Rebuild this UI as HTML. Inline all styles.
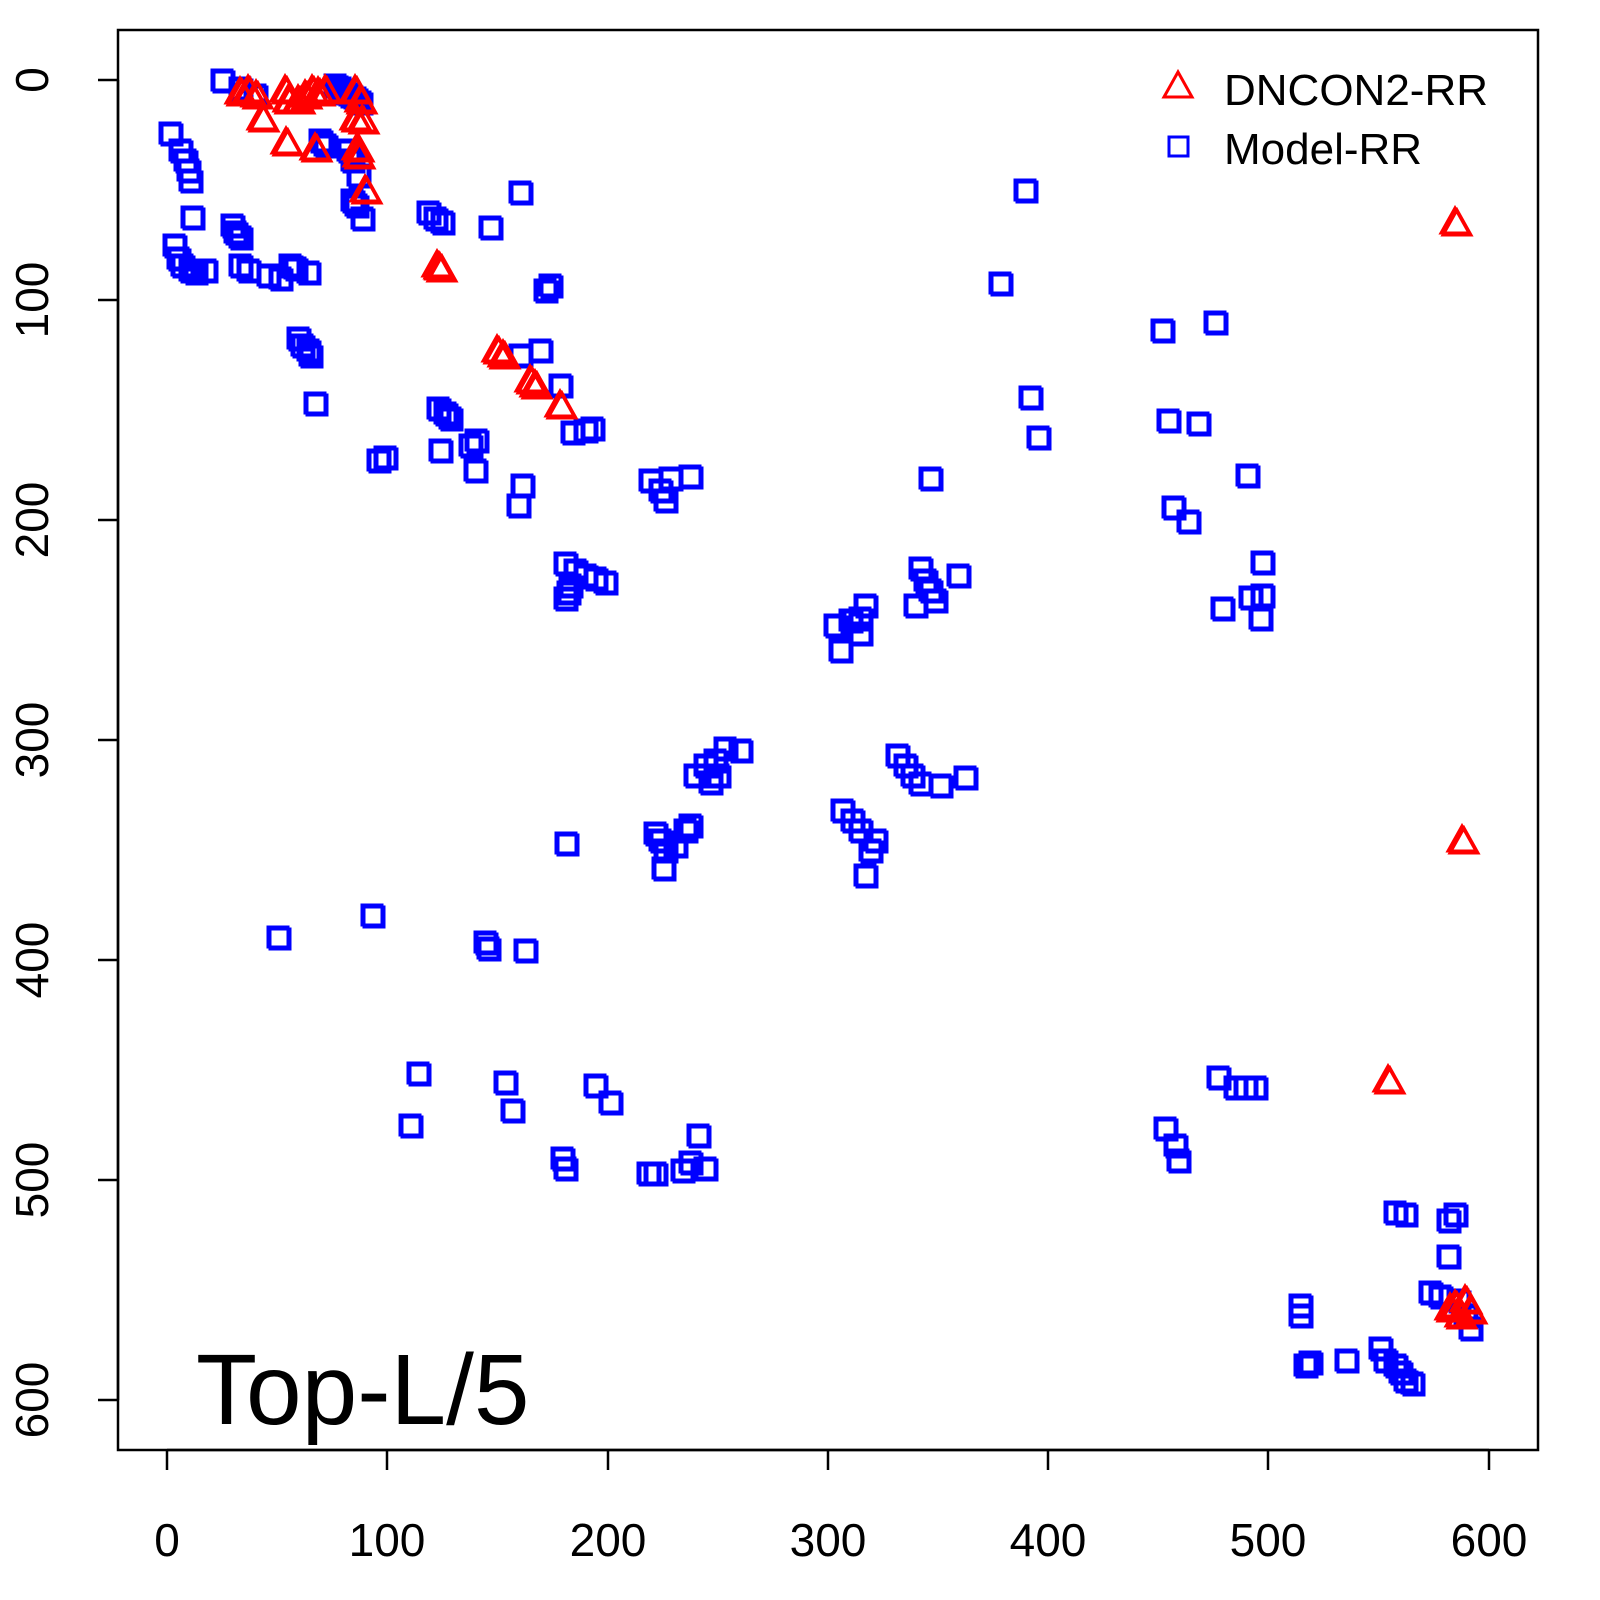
<!DOCTYPE html>
<html><head><meta charset="utf-8"><style>
html,body{margin:0;padding:0;background:#fff;}
svg{display:block;font-family:"Liberation Sans",sans-serif;}
</style></head><body>
<svg id="s" width="1600" height="1600" viewBox="0 0 1600 1600" xmlns="http://www.w3.org/2000/svg">
<rect x="118" y="30" width="1420" height="1420" fill="none" stroke="#000" stroke-width="2.5"/>
<g stroke="#000" stroke-width="2.5">
<line x1="167" y1="1450" x2="1489" y2="1450"/>
<line x1="167" y1="1450" x2="167" y2="1470"/><line x1="387" y1="1450" x2="387" y2="1470"/>
<line x1="608" y1="1450" x2="608" y2="1470"/><line x1="828" y1="1450" x2="828" y2="1470"/>
<line x1="1048" y1="1450" x2="1048" y2="1470"/><line x1="1268" y1="1450" x2="1268" y2="1470"/>
<line x1="1489" y1="1450" x2="1489" y2="1470"/>
<line x1="118" y1="80" x2="118" y2="1400"/>
<line x1="118" y1="80" x2="98" y2="80"/><line x1="118" y1="300" x2="98" y2="300"/>
<line x1="118" y1="520" x2="98" y2="520"/><line x1="118" y1="740" x2="98" y2="740"/>
<line x1="118" y1="960" x2="98" y2="960"/><line x1="118" y1="1180" x2="98" y2="1180"/>
<line x1="118" y1="1400" x2="98" y2="1400"/>
</g>
<g font-size="46" text-anchor="middle" fill="#000">
<text x="167" y="1556">0</text><text x="387" y="1556">100</text><text x="608" y="1556">200</text>
<text x="828" y="1556">300</text><text x="1048" y="1556">400</text><text x="1268" y="1556">500</text>
<text x="1489" y="1556">600</text>
<text transform="translate(48,80) rotate(-90)">0</text>
<text transform="translate(48,300) rotate(-90)">100</text>
<text transform="translate(48,520) rotate(-90)">200</text>
<text transform="translate(48,740) rotate(-90)">300</text>
<text transform="translate(48,960) rotate(-90)">400</text>
<text transform="translate(48,1180) rotate(-90)">500</text>
<text transform="translate(48,1400) rotate(-90)">600</text>
</g>
<text x="196" y="1424" font-size="100" fill="#000">Top-L/5</text>
<polygon points="1178,72 1164,97 1192,97" fill="none" stroke="#f00" stroke-width="3"/>
<rect x="1169" y="137" width="19" height="19" fill="none" stroke="#00f" stroke-width="3"/>
<text x="1224" y="105" font-size="44" fill="#000">DNCON2-RR</text>
<text x="1224" y="164" font-size="44" fill="#000">Model-RR</text>
<g id="pts"></g>
</svg>
<script>
var B=[[222,80],[240,88],[255,95],[170,133],[180,150],[185,160],[188,170],[190,180],[192,217],[174,245],[178,258],[182,265],[190,270],[195,272],[205,270],[232,225],[235,232],[240,237],[240,265],[248,270],[268,275],[280,278],[290,265],[295,268],[308,272],[320,140],[325,145],[315,403],[298,338],[302,345],[308,350],[310,355],[335,85],[340,88],[345,92],[350,95],[355,98],[360,102],[348,150],[352,160],[358,175],[352,200],[356,205],[362,218],[428,212],[435,218],[442,222],[490,227],[438,408],[445,413],[450,418],[440,450],[470,445],[476,440],[475,470],[378,460],[385,457],[520,355],[540,350],[545,290],[550,285],[560,385],[572,432],[585,430],[592,428],[520,192],[522,485],[518,505],[650,480],[660,490],[665,500],[670,478],[690,476],[565,563],[575,570],[585,575],[595,578],[605,582],[565,598],[568,592],[570,585],[835,625],[840,650],[850,620],[860,618],[865,605],[860,633],[920,568],[925,580],[930,590],[935,600],[915,605],[958,575],[930,478],[1000,283],[1025,190],[1030,397],[1038,437],[1162,330],[1215,322],[1168,420],[1198,423],[1173,507],[1188,521],[1247,475],[1222,608],[1250,597],[1262,595],[1260,618],[1262,562],[695,775],[705,765],[715,760],[725,748],[740,750],[710,782],[718,775],[655,833],[660,840],[665,850],[675,845],[685,830],[690,825],[663,868],[897,755],[905,765],[912,775],[920,783],[940,785],[965,777],[842,810],[852,820],[860,830],[865,875],[870,850],[875,840],[566,843],[278,937],[372,915],[485,942],[488,948],[525,950],[418,1073],[410,1125],[505,1082],[512,1110],[595,1085],[610,1102],[562,1158],[565,1168],[648,1173],[655,1173],[682,1170],[690,1162],[698,1135],[705,1168],[1218,1077],[1235,1087],[1245,1087],[1255,1087],[1165,1128],[1175,1145],[1178,1160],[1395,1212],[1405,1214],[1448,1220],[1455,1214],[1448,1256],[1430,1292],[1440,1296],[1458,1300],[1465,1315],[1470,1328],[1300,1305],[1300,1315],[1305,1365],[1310,1362],[1346,1360],[1380,1348],[1385,1360],[1395,1365],[1400,1372],[1405,1380],[1412,1383]];
var R=[[240,92],[248,90],[256,95],[262,118],[285,90],[288,100],[286,142],[298,100],[305,95],[312,90],[318,92],[325,90],[315,148],[355,90],[360,100],[355,118],[362,120],[357,148],[358,155],[365,190],[437,265],[440,268],[497,350],[503,355],[530,380],[535,385],[560,405],[1455,222],[1462,840],[1388,1080],[1455,1305],[1465,1300],[1470,1310],[1460,1315],[1450,1308]];
var h='';
B.forEach(function(p){for(var k=0;k<2;k++){h+='<rect x="'+(p[0]-10+k*2)+'" y="'+(p[1]-10+k*2)+'" width="20" height="20" fill="none" stroke="#00f" stroke-width="3"/>';}});
R.forEach(function(p){for(var k=0;k<2;k++){var x=p[0]+k*2,y=p[1]+k*2;h+='<polygon points="'+x+','+(y-14)+' '+(x-14)+','+(y+11)+' '+(x+14)+','+(y+11)+'" fill="none" stroke="#f00" stroke-width="3"/>';}});
document.getElementById('pts').innerHTML=h;
</script>
</body></html>
